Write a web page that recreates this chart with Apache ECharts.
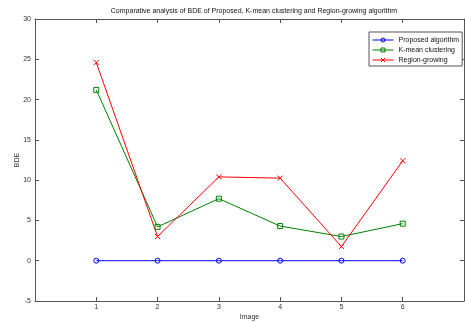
<!DOCTYPE html>
<html>
<head>
<meta charset="utf-8">
<script src="https://cdn.jsdelivr.net/npm/echarts@6/dist/echarts.min.js"></script>
<style>
  html, body { margin: 0; padding: 0; background: #fff; }
  #chart { width: 465px; height: 323px; }
</style>
</head>
<body>
<div id="chart"></div>
<script>
// Image indices on the x axis
const images = [1, 2, 3, 4, 5, 6];
// BDE per image for each method
const proposed = [0, 0, 0, 0, 0, 0];
const kmean = [21.2, 4.2, 7.7, 4.3, 3.0, 4.6];
const regionGrowing = [24.6, 3.0, 10.4, 10.25, 1.75, 12.4];
// y-axis range and step
const yMin = -5, yMax = 30, yStep = 5;

const pair = vals => images.map((x, i) => [x, vals[i]]);

const axisColor = '#555';
const textColor = '#333';
const font = 'Liberation Sans, Arial, sans-serif';
const crossPath = 'path://M0,0L10,10M10,0L0,10';
const ringPath = 'path://M10,5A5,5,0,1,1,0,5A5,5,0,1,1,10,5Z';
const boxPath = 'path://M0,0L10,0L10,10L0,10Z';

const chart = echarts.init(document.getElementById('chart'), null, { renderer: 'canvas' });

const xBase = {
  type: 'value', min: 0, max: 7, interval: 1,
  axisLine: { show: true, onZero: false, lineStyle: { color: axisColor, width: 1 } },
  axisTick: { show: true, inside: true, length: 4, lineStyle: { color: axisColor } },
  splitLine: { show: false }
};
const yBase = {
  type: 'value', min: yMin, max: yMax, interval: yStep,
  axisLine: { show: true, onZero: false, lineStyle: { color: axisColor, width: 1 } },
  axisTick: { show: true, inside: true, length: 4, lineStyle: { color: axisColor } },
  splitLine: { show: false }
};

// hollow marker style shared by every series
const marker = color => ({ color: 'none', borderColor: color, borderWidth: 1 });

chart.setOption({
  animation: false,
  backgroundColor: '#fff',
  title: {
    text: 'Comparative analysis of BDE of Proposed, K-mean clustering and Region-growing algorithm',
    left: 249, top: 3, textAlign: 'center',
    textStyle: { fontFamily: font, fontSize: 7, fontWeight: 'normal', color: '#111' }
  },
  grid: { left: 35, right: 1, top: 19, bottom: 22, containLabel: false, outerBoundsMode: 'none' },
  legend: {
    orient: 'vertical', left: 369, top: 32,
    padding: [3, 3, 1, 3], itemGap: 0, itemWidth: 21, itemHeight: 5,
    backgroundColor: '#fff', borderColor: axisColor, borderWidth: 1, borderRadius: 0,
    itemStyle: { borderWidth: 1 },
    lineStyle: { width: 1 },
    textStyle: { fontFamily: font, fontSize: 7, lineHeight: 10, color: '#111' },
    data: ['Proposed algorithm', 'K-mean clustering', 'Region-growing']
  },
  xAxis: [
    Object.assign({}, xBase, {
      position: 'bottom',
      name: 'Image', nameLocation: 'middle', nameGap: 13, nameMoveOverlap: false,
      nameTextStyle: { fontFamily: font, fontSize: 7, color: textColor },
      axisLabel: {
        fontFamily: font, fontSize: 7, color: textColor, margin: 3,
        formatter: v => (v >= 1 && v <= 6) ? String(v) : ''
      }
    }),
    Object.assign({}, xBase, { position: 'top', axisLabel: { show: false } })
  ],
  yAxis: [
    Object.assign({}, yBase, {
      position: 'left',
      name: 'BDE', nameLocation: 'middle', nameGap: 14, nameMoveOverlap: false,
      nameTextStyle: { fontFamily: font, fontSize: 7, color: textColor },
      axisLabel: { fontFamily: font, fontSize: 7, color: textColor, margin: 4 }
    }),
    Object.assign({}, yBase, { position: 'right', axisLabel: { show: false } })
  ],
  series: [
    {
      name: 'Proposed algorithm', type: 'line', data: pair(proposed),
      symbol: ringPath, symbolSize: 5, showAllSymbol: true,
      lineStyle: { color: '#0000ff', width: 1 },
      itemStyle: marker('#0000ff')
    },
    {
      name: 'K-mean clustering', type: 'line', data: pair(kmean),
      symbol: boxPath, symbolSize: 5, showAllSymbol: true,
      lineStyle: { color: '#008000', width: 1 },
      itemStyle: marker('#008000')
    },
    {
      name: 'Region-growing', type: 'line', data: pair(regionGrowing),
      symbol: crossPath, symbolSize: 5, showAllSymbol: true,
      lineStyle: { color: '#ff0000', width: 1 },
      itemStyle: marker('#ff0000')
    }
  ]
});
</script>
</body>
</html>
